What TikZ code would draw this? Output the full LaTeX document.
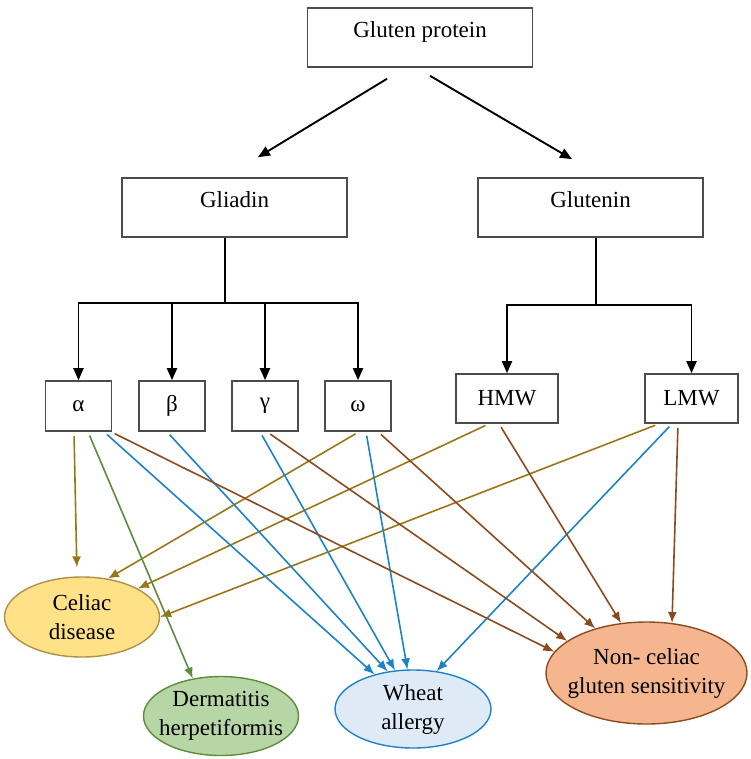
\documentclass[tikz,border=0pt]{standalone}
\usepackage{fontspec}
\setmainfont{Liberation Serif}
\usetikzlibrary{arrows.meta,shapes.geometric}
\definecolor{cdline}{RGB}{155,118,22}
\definecolor{dhline}{RGB}{95,140,60}
\definecolor{waline}{RGB}{30,130,200}
\definecolor{ncline}{RGB}{140,75,30}
\definecolor{cdfill}{RGB}{255,226,135}
\definecolor{dhfill}{RGB}{183,214,165}
\definecolor{wafill}{RGB}{222,235,247}
\definecolor{ncfill}{RGB}{245,182,143}
\newcommand\zw[1]{\makebox[0pt]{#1}}
\begin{document}
\begin{tikzpicture}[x=1pt,y=-1pt,>={Triangle[length=12pt,width=10pt]},
    font=\fontsize{23}{29}\selectfont,
    box/.style={draw=black!70,line width=1.6pt,minimum width=225,minimum height=59,text height=14pt,text depth=14pt},
    sbox/.style={draw=black!70,line width=1.6pt,minimum height=50,inner sep=0pt},
    dis/.style={ellipse,line width=1.4pt,inner sep=0pt,align=center},
    tree/.style={line width=1.9pt},
    link/.style={->,>={Latex[length=11pt,width=9pt]},line width=1.6pt,shorten <=4pt}]
\useasboundingbox (0,0) rectangle (750,759);

\node[box] (gluten) at (420,37.5) {Gluten protein};
\node[box] (gliadin) at (234.5,207.5) {Gliadin};
\node[box] (glutenin) at (590.5,207.5) {Glutenin};
\draw[tree,->] ([shift={(-33,11)}]gluten.south) -- ([shift={(23.5,-20)}]gliadin.north);
\draw[tree,->] ([shift={(10,8)}]gluten.south) -- ([shift={(-18.5,-18)}]glutenin.north);

\node[sbox,minimum width=66] (alpha) at (78.5,406) {α};
\node[sbox,minimum width=66] (beta) at (172,406) {β};
\node[sbox,minimum width=66] (gamma) at (265,406) {γ};
\node[sbox,minimum width=66] (omega) at (358,406) {ω};
\node[sbox,minimum width=102,minimum height=49] (hmw) at (507,398.5) {HMW};
\node[sbox,minimum width=93,minimum height=49] (lmw) at (691.5,398.5) {LMW};

\coordinate (gb) at (225,303);
\draw[tree] (gliadin.south -| gb) -- (gb);
\foreach \n in {alpha,beta,gamma,omega} \draw[tree,->] (gb) -| (\n.north);
\coordinate (gt) at (596,305);
\draw[tree] (glutenin.south -| gt) -- (gt);
\foreach \n in {hmw,lmw} \draw[tree,->] (gt) -| (\n.north);

\node[dis,draw=cdline!80,fill=cdfill,minimum width=155,minimum height=80] (celiac) at (82,617) {\zw{Celiac}\\\zw{disease}};
\node[dis,draw=dhline,fill=dhfill,minimum width=155,minimum height=79] (derm) at (221,716) {\zw{Dermatitis}\\\zw{herpetiformis}};
\node[dis,draw=waline,fill=wafill,minimum width=156,minimum height=78] (wheat) at (413,709) {\zw{Wheat}\\\zw{allergy}};
\node[dis,draw=ncline,fill=ncfill,minimum width=201,minimum height=102] (noncel) at (646.5,673) {\zw{Non- celiac}\\\zw{gluten sensitivity}};

\draw[link,cdline,shorten >=9pt] ([xshift=-4.5]alpha.south) -- (celiac.97);
\draw[link,cdline] ([xshift=1]omega.south) -- (celiac.56);
\draw[link,cdline] ([xshift=-18]hmw.south) -- (celiac.27);
\draw[link,cdline] ([xshift=-32.5]lmw.south) -- (celiac.0);
\draw[link,dhline] ([xshift=9.5]alpha.south) -- (derm.127);
\draw[link,waline] ([xshift=25.5]alpha.south) -- (wheat.138);
\draw[link,waline] ([xshift=-5]beta.south) -- (wheat.124);
\draw[link,waline] ([xshift=-5]gamma.south) -- (wheat.115);
\draw[link,waline] ([xshift=8]omega.south) -- (wheat.98);
\draw[link,waline] ([xshift=-19.5]lmw.south) -- (wheat.58);
\draw[link,ncline] ([xshift=32.5]alpha.south) -- (noncel.167);
\draw[link,ncline] ([xshift=2]gamma.south) -- (noncel.158);
\draw[link,ncline] ([xshift=20]omega.south) -- (noncel.139);
\draw[link,ncline] ([xshift=-8]hmw.south) -- (noncel.117);
\draw[link,ncline] ([xshift=-13.5]lmw.south) -- (noncel.63);

\end{tikzpicture}
\end{document}
